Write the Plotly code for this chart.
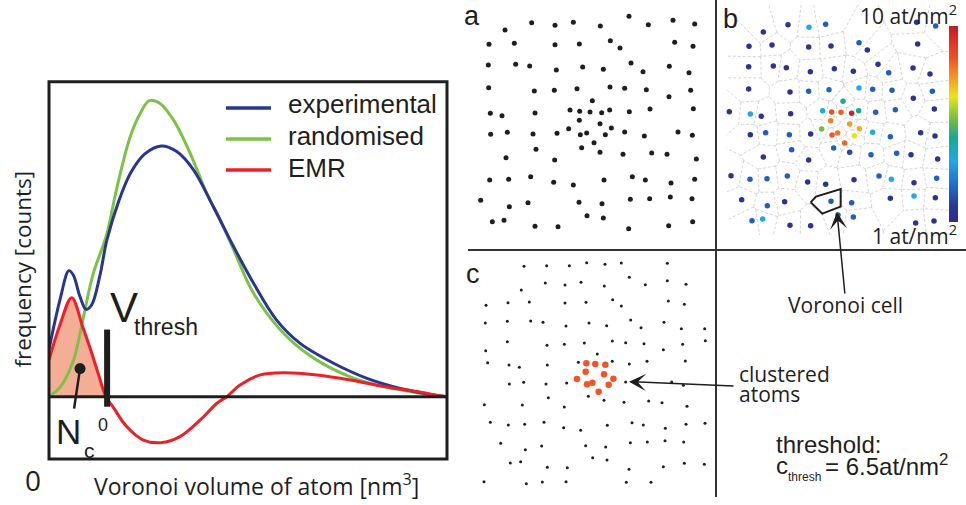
import plotly.graph_objects as go

W, H = 966, 505

# ---------------- left chart: Voronoi volume distributions (arb. units) ----------------
EXP_X = [0.0, 0.28, 0.50, 0.61, 0.78, 0.93, 1.07, 1.28, 1.45, 1.75, 2.05, 2.40, 2.82, 3.21, 3.63, 4.13, 4.64, 5.14, 5.72, 6.31, 7.15, 7.99, 8.83, 9.83, 10.0]
EXP_Y = [15.0, 31.0, 40.0, 38.6, 31.7, 27.7, 29.1, 38.5, 49.5, 62.0, 71.0, 77.0, 79.6, 77.8, 72.0, 60.3, 47.6, 36.0, 24.3, 16.9, 10.6, 5.8, 2.6, 0.2, 0.0]

RND_X = [0.0, 0.28, 0.60, 0.78, 0.91, 1.11, 1.45, 1.70, 2.04, 2.29, 2.52, 2.79, 3.13, 3.55, 3.96, 4.30, 4.64, 5.05, 5.47, 6.06, 6.73, 7.57, 8.41, 9.83, 10.0]
RND_Y = [0.0, 3.0, 11.0, 20.0, 28.0, 39.0, 51.5, 66.0, 82.5, 89.9, 94.0, 93.1, 87.8, 77.2, 64.6, 56.1, 46.6, 34.9, 26.5, 18.0, 11.6, 6.3, 3.2, 0.2, 0.0]

EMR_X = [0.0, 0.28, 0.57, 0.85, 1.03, 1.22, 1.43, 1.62, 1.95, 2.37, 2.82, 3.29, 3.80, 4.22, 4.47, 4.80, 5.31, 5.89, 6.73, 7.57, 8.41, 9.25, 9.83, 10.0]
EMR_Y = [11.7, 23.0, 31.4, 22.0, 15.5, 8.0, 0.0, -3.5, -9.5, -13.8, -14.6, -12.7, -7.4, -2.1, 0.0, 3.7, 6.9, 7.6, 6.9, 5.3, 3.2, 1.6, 0.2, 0.0]

V_THRESH = 1.46
V_BAR_Y = [-3.2, 21.3]
NC_PIN_X = [0.78, 0.63]
NC_PIN_Y = [8.9, -3.8]
X_RANGE = [0, 10]
Y_RANGE = [-19.8, 100]

LEGEND_NAMES = ["experimental", "randomised", "EMR"]

# ---------------- panel a: atom positions (arb. units, y downwards) ----------------
A_X = [135, 215, 285, 340, 421, 507, 565, 639, 704,
       87, 163, 285, 358, 451, 480, 644, 699,
       85, 167, 209, 289, 368, 430, 513, 549, 628, 687,
       86, 223, 283, 351, 450, 494, 559, 627, 692,
       397,
       91, 126, 225, 330, 359, 390, 425, 449, 508, 570, 700,
       358, 420,
       92, 142, 219, 291, 326, 361, 380, 436, 454, 494, 553, 654, 697,
       228, 402, 365, 420, 489, 575, 621, 138, 284, 709,
       89, 146, 212, 281, 340, 432, 517, 556, 633, 704,
       62, 148, 204, 357, 426, 511, 569, 631, 696,
       381, 430,
       97, 132, 225, 294, 506, 626, 698]
A_Y = [90, 68, 76, 67, 78, 49, 74, 61, 72,
       133, 130, 134, 132, 122, 144, 127, 139,
       195, 193, 198, 210, 201, 208, 189, 215, 199, 218,
       263, 273, 271, 266, 261, 265, 269, 290, 271,
       302,
       340, 347, 339, 330, 334, 336, 338, 330, 335, 327, 326,
       361, 371,
       403, 397, 402, 400, 386, 404, 399, 404, 384, 396, 408, 396, 406,
       448, 428, 443, 457, 463, 459, 463, 473, 480, 477,
       540, 538, 530, 547, 555, 540, 530, 540, 549, 538,
       601, 620, 608, 607, 611, 598, 596, 591, 596,
       647, 654,
       665, 661, 679, 680, 686, 677, 665]

# ---------------- panel b: atom positions + local density (at/nm^2) ----------------
B_X = [234, 297, 347, 160, 620, 677,
       117, 186, 296, 363, 447, 472, 623,
       116, 190, 229, 301, 373, 430, 504, 536, 609, 660,
       116, 240, 296, 357, 447, 488, 546, 667, 610,
       399,
       58, 121, 154, 242, 338, 365, 393, 425, 446, 497, 556, 673,
       362, 419,
       121, 167, 238, 302, 335, 366, 383, 433, 448, 488, 541, 632, 675,
       245, 404, 371, 419, 483, 560, 603, 160, 296, 683,
       63, 120, 171, 232, 293, 347, 432, 507, 544, 612, 680,
       95, 172, 224, 363, 425, 541, 612, 676,
       384, 430,
       126, 158, 240, 302, 617, 672]
B_Y = [74, 82, 73, 96, 67, 78,
       139, 135, 141, 138, 128, 150, 132,
       200, 198, 203, 215, 206, 214, 193, 218, 204, 222,
       267, 276, 274, 269, 264, 268, 271, 274, 295,
       304,
       335, 342, 349, 341, 332, 336, 337, 340, 332, 337, 329, 327,
       362, 372,
       404, 398, 404, 402, 387, 405, 399, 407, 386, 397, 410, 398, 408,
       449, 429, 444, 457, 464, 460, 464, 471, 480, 477,
       527, 538, 536, 528, 546, 553, 539, 528, 538, 548, 535,
       599, 617, 605, 604, 608, 595, 588, 593,
       645, 651,
       662, 657, 676, 677, 669, 663]
B_DENS = [1.5, 3.8, 2.4, 1.5, 1.5, 2.4,
          1.5, 1.5, 1.5, 1.5, 2.4, 1.5, 1.5,
          1.5, 1.5, 1.5, 1.5, 1.5, 1.5, 1.5, 2.4, 1.5, 1.5,
          1.5, 1.5, 2.4, 2.6, 3.8, 2.4, 2.4, 2.4, 1.5,
          4.9,
          1.5, 3.8, 1.5, 1.5, 3.8, 8.6, 8.4, 9.8, 4.9, 2.4, 2.4, 1.5,
          7.9, 7.6,
          1.5, 2.4, 2.4, 1.5, 5.7, 8.5, 8.1, 6.8, 7.4, 3.8, 2.4, 1.5, 1.5,
          2.4, 8.3, 2.4, 2.0, 2.4, 2.4, 1.5, 1.5, 1.5, 1.5,
          1.5, 2.4, 2.4, 2.4, 1.5, 1.5, 1.5, 2.4, 3.8, 1.5, 2.4,
          1.5, 2.4, 1.5, 2.4, 2.4, 1.5, 3.8, 1.5,
          2.4, 2.4,
          2.4, 3.8, 1.5, 1.5, 1.5, 1.5]
DENS_MIN, DENS_MAX = 1, 10
B_BOX = [50, 715, 15, 705]  # region covered by the Voronoi tessellation
CELL_X = [302, 318, 392, 392, 370, 337, 302]
CELL_Y = [607, 590, 567, 620, 628, 641, 607]

# ---------------- panel c: non-clustered and clustered atoms ----------------
C_X = [192, 260, 328, 380, 435, 484, 622,
       256, 315, 363, 433, 508, 556, 622, 678,
       184,
       78, 144, 208, 315, 378, 458, 484, 625, 673,
       76, 142, 212, 249, 318, 387, 440, 512, 543, 612, 664, 734,
       142, 261, 313, 373, 457, 497, 552, 668, 736,
       77, 610,
       83, 147, 178, 262, 355, 412, 457, 508, 561, 676,
       148, 191, 258, 320, 497, 635, 670,
       265, 385, 432, 492, 566, 606, 73, 187, 313, 681,
       91, 145, 194, 252, 311, 362, 442, 516, 550, 616, 678, 735,
       122, 196, 245, 377, 437, 511, 562, 615, 671,
       398, 441, 151, 182, 262, 322, 507, 610, 673, 733,
       72, 199, 247, 318, 499, 573]
C_Y = [79, 77, 77, 68, 73, 69, 70,
       129, 135, 127, 138, 112, 134, 122, 133,
       150,
       196, 188, 186, 189, 187, 179, 198, 183, 193,
       249, 244, 243, 247, 258, 249, 257, 240, 263, 247, 266, 266,
       305, 316, 313, 309, 303, 308, 311, 313, 302,
       332, 329,
       368, 375, 382, 375, 367, 342, 364, 372, 364, 363,
       432, 427, 432, 429, 426, 426, 436,
       473, 469, 481, 487, 483, 488, 494, 495, 501, 499,
       547, 555, 553, 547, 563, 571, 556, 548, 555, 565, 553, 550,
       610, 629, 618, 617, 621, 608, 606, 602, 606,
       653, 660, 669, 665, 682, 683, 688, 680, 670, 673,
       725, 731, 726, 725, 727, 727]
CL_X = [379, 406, 436, 377, 432, 351, 381, 397, 460, 446, 416]
CL_Y = [370, 372, 374, 395, 403, 417, 433, 428, 416, 434, 455]

# ---------------- styles ----------------
BLUE = "rgb(40,54,146)"
GREEN = "rgb(125,194,70)"
RED = "rgb(237,32,40)"
SALMON = "rgb(245,174,150)"
ORANGE = "rgb(240,84,40)"
INK = "rgb(30,30,30)"
MYR = "Open Sans"
ARI = "Liberation Sans"
JET = [[0.0, "rgb(45,45,140)"], [0.08, "rgb(40,55,150)"], [0.16, "rgb(30,95,195)"],
       [0.31, "rgb(30,170,230)"], [0.43, "rgb(20,170,150)"], [0.52, "rgb(110,190,70)"],
       [0.64, "rgb(235,230,20)"], [0.74, "rgb(245,150,35)"], [0.84, "rgb(240,80,35)"],
       [0.93, "rgb(225,45,35)"], [1.0, "rgb(190,30,40)"]]


def px(xp):
    return xp / W


def py(yp):
    return 1 - yp / H


# ---------------- Voronoi tessellation of panel b (half-plane clipping) ----------------
def clip(poly, a, b, c):
    out = []
    n = len(poly)
    for k in range(n):
        P = poly[k]
        Q = poly[(k + 1) % n]
        fp = a * P[0] + b * P[1] - c
        fq = a * Q[0] + b * Q[1] - c
        if fp <= 0:
            out.append(P)
        if fp * fq < 0:
            t = fp / (fp - fq)
            out.append((P[0] + t * (Q[0] - P[0]), P[1] + t * (Q[1] - P[1])))
    return out


x0b, x1b, y0b, y1b = B_BOX
vx, vy = [], []
seen = set()
for i, (xi, yi) in enumerate(zip(B_X, B_Y)):
    poly = [(x0b, y0b), (x1b, y0b), (x1b, y1b), (x0b, y1b)]
    for j, (xj, yj) in enumerate(zip(B_X, B_Y)):
        if i == j:
            continue
        a, b = xj - xi, yj - yi
        c = (xj * xj + yj * yj - xi * xi - yi * yi) / 2
        poly = clip(poly, a, b, c)
        if not poly:
            break
    n = len(poly)
    for k in range(n):
        P, Q = poly[k], poly[(k + 1) % n]
        on_edge = ((abs(P[0] - x0b) < 1e-6 and abs(Q[0] - x0b) < 1e-6) or
                   (abs(P[0] - x1b) < 1e-6 and abs(Q[0] - x1b) < 1e-6) or
                   (abs(P[1] - y0b) < 1e-6 and abs(Q[1] - y0b) < 1e-6) or
                   (abs(P[1] - y1b) < 1e-6 and abs(Q[1] - y1b) < 1e-6))
        if on_edge:
            continue
        key = tuple(sorted([(round(P[0], 1), round(P[1], 1)), (round(Q[0], 1), round(Q[1], 1))]))
        if key in seen:
            continue
        seen.add(key)
        vx += [P[0], Q[0], None]
        vy += [P[1], Q[1], None]

fig = go.Figure()

# ---------------- left chart traces ----------------
fill_x = [x for x, y in zip(EMR_X, EMR_Y) if x <= 1.43]
fill_y = [y for x, y in zip(EMR_X, EMR_Y) if x <= 1.43]
fig.add_trace(go.Scatter(x=fill_x, y=fill_y, mode="lines", fill="tozeroy", fillcolor=SALMON,
                         line=dict(width=0, shape="spline"), showlegend=False, hoverinfo="skip",
                         xaxis="x", yaxis="y"))
fig.add_trace(go.Scatter(x=RND_X, y=RND_Y, mode="lines", name=LEGEND_NAMES[1],
                         line=dict(color=GREEN, width=3, shape="spline"), showlegend=False,
                         xaxis="x", yaxis="y"))
fig.add_trace(go.Scatter(x=EXP_X, y=EXP_Y, mode="lines", name=LEGEND_NAMES[0],
                         line=dict(color=BLUE, width=3, shape="spline"), showlegend=False,
                         xaxis="x", yaxis="y"))
fig.add_trace(go.Scatter(x=EMR_X, y=EMR_Y, mode="lines", name=LEGEND_NAMES[2],
                         line=dict(color=RED, width=3, shape="spline"), showlegend=False,
                         xaxis="x", yaxis="y"))
fig.add_trace(go.Scatter(x=NC_PIN_X, y=NC_PIN_Y, mode="lines", line=dict(color=INK, width=2.5),
                         showlegend=False, hoverinfo="skip", xaxis="x", yaxis="y"))
fig.add_trace(go.Scatter(x=NC_PIN_X[:1], y=NC_PIN_Y[:1], mode="markers",
                         marker=dict(color=INK, size=11), showlegend=False, hoverinfo="skip",
                         xaxis="x", yaxis="y"))

# ---------------- panel a ----------------
fig.add_trace(go.Scatter(x=A_X, y=A_Y, mode="markers", marker=dict(color=INK, size=5),
                         showlegend=False, xaxis="x2", yaxis="y2"))

# ---------------- panel b ----------------
fig.add_trace(go.Scatter(x=vx, y=vy, mode="lines",
                         line=dict(color="rgb(195,195,195)", width=0.7, dash="3px,2px"),
                         showlegend=False, hoverinfo="skip", xaxis="x3", yaxis="y3"))
fig.add_trace(go.Scatter(x=B_X, y=B_Y, mode="markers",
                         marker=dict(color=B_DENS, colorscale=JET, cmin=DENS_MIN, cmax=DENS_MAX, size=5.5,
                                     colorbar=dict(x=px(949), xanchor="left", xpad=0, ypad=0,
                                                   y=py(124), yanchor="middle",
                                                   len=196, lenmode="pixels", thickness=9,
                                                   outlinewidth=0, showticklabels=False, ticks="")),
                         showlegend=False, xaxis="x3", yaxis="y3"))
fig.add_trace(go.Scatter(x=CELL_X, y=CELL_Y, mode="lines", line=dict(color=INK, width=2),
                         showlegend=False, hoverinfo="skip", xaxis="x3", yaxis="y3"))

# ---------------- panel c ----------------
fig.add_trace(go.Scatter(x=C_X, y=C_Y, mode="markers", marker=dict(color=INK, size=3),
                         showlegend=False, xaxis="x4", yaxis="y4"))
fig.add_trace(go.Scatter(x=CL_X, y=CL_Y, mode="markers", marker=dict(color=ORANGE, size=6.5),
                         showlegend=False, xaxis="x4", yaxis="y4"))

hidden = dict(visible=False, showgrid=False, zeroline=False, fixedrange=True)
fig.update_layout(
    width=W, height=H, autosize=False,
    margin=dict(l=0, r=0, t=0, b=0, pad=0),
    paper_bgcolor="white", plot_bgcolor="rgba(0,0,0,0)",
    showlegend=False,
    xaxis=dict(domain=[px(49), px(447)], range=X_RANGE, **hidden),
    yaxis=dict(domain=[py(459), py(81.7)], range=Y_RANGE, **hidden),
    xaxis2=dict(domain=[px(460), px(720)], range=[0, 780], anchor="y2", **hidden),
    yaxis2=dict(domain=[py(250), py(0)], range=[750, 0], anchor="x2", **hidden),
    xaxis3=dict(domain=[px(710), px(966)], range=[0, 768], anchor="y3", **hidden),
    yaxis3=dict(domain=[py(250), py(0)], range=[750, 0], anchor="x3", **hidden),
    xaxis4=dict(domain=[px(460), px(720)], range=[0, 780], anchor="y4", **hidden),
    yaxis4=dict(domain=[py(505), py(240)], range=[795, 0], anchor="x4", **hidden),
)

shapes = [
    # left chart frame, zero line and threshold bar
    dict(type="rect", xref="x domain", yref="y domain", x0=0, x1=1, y0=0, y1=1,
         line=dict(color=INK, width=3), layer="above"),
    dict(type="line", xref="x domain", yref="y", x0=0, x1=1, y0=0, y1=0,
         line=dict(color=INK, width=3), layer="above"),
    dict(type="line", xref="x", yref="y", x0=V_THRESH, x1=V_THRESH, y0=V_BAR_Y[0], y1=V_BAR_Y[1],
         line=dict(color=INK, width=6), layer="above"),
    # panel dividers
    dict(type="line", xref="paper", yref="paper", x0=px(468), x1=1, y0=py(250), y1=py(250),
         line=dict(color="rgb(50,50,50)", width=2)),
    dict(type="line", xref="paper", yref="paper", x0=px(716), x1=px(716), y0=py(497), y1=1,
         line=dict(color="rgb(50,50,50)", width=2)),
]
# legend line samples
for col, yl in zip([BLUE, GREEN, RED], [108, 139, 170]):
    shapes.append(dict(type="line", xref="paper", yref="paper", x0=px(226), x1=px(271),
                       y0=py(yl), y1=py(yl), line=dict(color=col, width=3.5)))
fig.update_layout(shapes=shapes)


def ann(text, xp, yp, size, family=MYR, xanchor="left", angle=0, color=INK):
    return dict(text=text, x=px(xp), y=py(yp), xref="paper", yref="paper", showarrow=False,
                xanchor=xanchor, yanchor="middle", textangle=angle,
                font=dict(size=size, family=family, color=color))


annotations = [
    ann(LEGEND_NAMES[0], 286, 104, 26, ARI),
    ann(LEGEND_NAMES[1], 286, 136, 26, ARI),
    ann(LEGEND_NAMES[2], 286, 168, 26, ARI),
    ann("V", 108, 307, 42, ARI),
    ann("thresh", 132, 327, 23, ARI),
    ann("N", 54, 431, 35, ARI),
    ann("c", 82, 450, 21, ARI),
    ann("0", 96, 425, 18, ARI),
    ann("0", 23, 480, 28, MYR),
    ann("Voronoi volume of atom [nm<sup>3</sup>]", 92, 485, 23, MYR),
    ann("frequency [counts]", 21.5, 269, 22.5, MYR, xanchor="center", angle=-90),
    ann("a", 462, 16, 27, ARI),
    ann("b", 721, 19, 27, ARI),
    ann("c", 464, 274, 27, ARI),
    ann("10 at/nm<sup>2</sup>", 959, 14, 21, MYR, xanchor="right"),
    ann("1 at/nm<sup>2</sup>", 959, 235, 21, MYR, xanchor="right"),
    ann("Voronoi cell", 786, 305, 21, MYR),
    ann("clustered", 737, 374, 21, MYR),
    ann("atoms", 737, 394, 21, MYR),
    ann("threshold:", 774, 444, 24, ARI),
    ann("c", 774, 465, 24, ARI),
    ann("thresh", 786, 477, 12, ARI),
    ann("= 6.5at/nm<sup>2</sup>", 823, 465, 24, ARI),
]
# arrows
annotations.append(dict(text="", x=507, y=425, xref="x4", yref="y4", ax=825, ay=438,
                        axref="x4", ayref="y4", showarrow=True, arrowhead=3, arrowsize=1.9,
                        arrowwidth=1.5, arrowcolor=INK, standoff=0))
annotations.append(dict(text="", x=381, y=636, xref="x3", yref="y3", ax=405, ay=885,
                        axref="x3", ayref="y3", showarrow=True, arrowhead=3, arrowsize=1.9,
                        arrowwidth=1.5, arrowcolor=INK, standoff=0))
fig.update_layout(annotations=annotations)

fig.write_html("out.html")
